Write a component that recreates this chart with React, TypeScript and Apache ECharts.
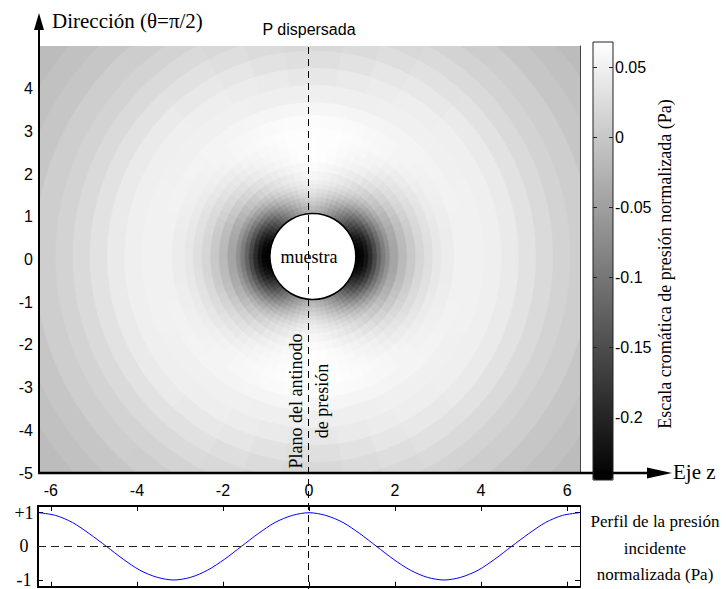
import React, { useEffect, useRef } from 'react';
import * as echarts from 'echarts';

// ---------- data ----------
// Scattered pressure (Pa) around the sample: one row per polar angle (deg from +z axis, every 5 deg),
// one value per ring between consecutive radii of RING_EDGES (axis units).
const FIELD_ANGLES = [0, 5, 10, 15, 20, 25, 30, 35, 40, 45, 50, 55, 60, 65, 70, 75, 80, 85, 90];
const RING_EDGES = [1.0, 1.1, 1.2, 1.3, 1.4, 1.5, 1.6, 1.7, 1.8, 2.0, 2.2, 2.4, 2.6, 2.8, 3.0, 3.3, 3.6, 4.0, 4.4, 4.8, 5.2, 5.6, 6.0, 6.5, 7.0, 7.5, 8.3];
const P_AT_0 = [-0.246, -0.240, -0.221, -0.193, -0.158, -0.124, -0.093, -0.068, -0.043, -0.018, 0.001, 0.017, 0.029, 0.039, 0.045, 0.051, 0.051, 0.048, 0.042, 0.033, 0.023, 0.014, 0.008, -0.002, -0.008, -0.014];
const P_AT_5 = [-0.244, -0.238, -0.219, -0.191, -0.156, -0.122, -0.092, -0.067, -0.042, -0.017, 0.002, 0.018, 0.029, 0.039, 0.045, 0.051, 0.051, 0.048, 0.042, 0.033, 0.023, 0.014, 0.008, -0.002, -0.008, -0.014];
const P_AT_10 = [-0.242, -0.235, -0.217, -0.189, -0.154, -0.121, -0.090, -0.066, -0.041, -0.016, 0.002, 0.018, 0.030, 0.040, 0.045, 0.051, 0.051, 0.048, 0.042, 0.033, 0.023, 0.014, 0.008, -0.002, -0.008, -0.014];
const P_AT_15 = [-0.235, -0.229, -0.210, -0.183, -0.149, -0.116, -0.086, -0.062, -0.038, -0.014, 0.004, 0.020, 0.031, 0.040, 0.046, 0.051, 0.051, 0.048, 0.042, 0.033, 0.023, 0.014, 0.008, -0.002, -0.008, -0.014];
const P_AT_20 = [-0.226, -0.220, -0.201, -0.174, -0.141, -0.110, -0.081, -0.057, -0.034, -0.011, 0.007, 0.022, 0.032, 0.042, 0.047, 0.052, 0.051, 0.048, 0.042, 0.033, 0.023, 0.014, 0.008, -0.002, -0.008, -0.014];
const P_AT_25 = [-0.213, -0.206, -0.188, -0.162, -0.130, -0.100, -0.072, -0.050, -0.028, -0.006, 0.011, 0.025, 0.035, 0.043, 0.048, 0.052, 0.051, 0.048, 0.042, 0.033, 0.023, 0.014, 0.008, -0.002, -0.008, -0.014];
const P_AT_30 = [-0.198, -0.190, -0.172, -0.147, -0.117, -0.089, -0.063, -0.042, -0.021, 0.000, 0.016, 0.028, 0.037, 0.045, 0.049, 0.052, 0.050, 0.048, 0.042, 0.033, 0.023, 0.014, 0.008, -0.002, -0.008, -0.014];
const P_AT_35 = [-0.180, -0.172, -0.154, -0.131, -0.102, -0.076, -0.052, -0.032, -0.013, 0.006, 0.021, 0.032, 0.040, 0.047, 0.051, 0.053, 0.050, 0.048, 0.042, 0.033, 0.023, 0.014, 0.008, -0.002, -0.008, -0.014];
const P_AT_40 = [-0.163, -0.154, -0.137, -0.114, -0.088, -0.063, -0.041, -0.023, -0.005, 0.013, 0.026, 0.036, 0.043, 0.050, 0.052, 0.053, 0.050, 0.048, 0.042, 0.033, 0.023, 0.014, 0.008, -0.002, -0.008, -0.014];
const P_AT_45 = [-0.145, -0.136, -0.119, -0.098, -0.073, -0.050, -0.030, -0.013, 0.003, 0.019, 0.031, 0.040, 0.046, 0.052, 0.054, 0.054, 0.050, 0.048, 0.042, 0.033, 0.023, 0.014, 0.008, -0.002, -0.008, -0.014];
const P_AT_50 = [-0.126, -0.116, -0.099, -0.079, -0.056, -0.036, -0.017, -0.003, 0.012, 0.027, 0.037, 0.045, 0.050, 0.054, 0.055, 0.054, 0.049, 0.047, 0.040, 0.031, 0.022, 0.014, 0.007, -0.002, -0.008, -0.014];
const P_AT_55 = [-0.108, -0.098, -0.081, -0.063, -0.041, -0.023, -0.006, 0.007, 0.020, 0.033, 0.043, 0.049, 0.053, 0.057, 0.057, 0.055, 0.049, 0.047, 0.040, 0.031, 0.022, 0.014, 0.007, -0.002, -0.008, -0.014];
const P_AT_60 = [-0.091, -0.080, -0.063, -0.046, -0.027, -0.010, 0.005, 0.016, 0.028, 0.040, 0.048, 0.053, 0.056, 0.059, 0.058, 0.055, 0.049, 0.047, 0.040, 0.031, 0.022, 0.014, 0.007, -0.002, -0.008, -0.014];
const P_AT_65 = [-0.075, -0.064, -0.048, -0.032, -0.014, 0.001, 0.015, 0.025, 0.035, 0.045, 0.052, 0.056, 0.059, 0.061, 0.060, 0.056, 0.049, 0.045, 0.037, 0.028, 0.020, 0.012, 0.005, -0.003, -0.009, -0.014];
const P_AT_70 = [-0.062, -0.051, -0.035, -0.019, -0.003, 0.010, 0.023, 0.032, 0.041, 0.050, 0.056, 0.059, 0.061, 0.063, 0.061, 0.056, 0.048, 0.045, 0.037, 0.028, 0.020, 0.012, 0.005, -0.003, -0.009, -0.014];
const P_AT_75 = [-0.051, -0.040, -0.023, -0.009, 0.007, 0.018, 0.030, 0.038, 0.046, 0.054, 0.060, 0.062, 0.063, 0.064, 0.062, 0.056, 0.048, 0.042, 0.033, 0.024, 0.017, 0.010, 0.003, -0.004, -0.010, -0.014];
const P_AT_80 = [-0.040, -0.028, -0.012, 0.002, 0.016, 0.026, 0.037, 0.044, 0.051, 0.058, 0.063, 0.064, 0.065, 0.065, 0.063, 0.057, 0.048, 0.042, 0.033, 0.024, 0.017, 0.010, 0.003, -0.004, -0.010, -0.014];
const P_AT_85 = [-0.034, -0.022, -0.006, 0.008, 0.021, 0.031, 0.041, 0.047, 0.054, 0.061, 0.065, 0.066, 0.066, 0.066, 0.063, 0.057, 0.048, 0.039, 0.029, 0.020, 0.014, 0.008, 0.001, -0.005, -0.011, -0.014];
const P_AT_90 = [-0.027, -0.015, 0.001, 0.014, 0.027, 0.036, 0.045, 0.051, 0.057, 0.063, 0.067, 0.067, 0.067, 0.067, 0.064, 0.057, 0.048, 0.039, 0.029, 0.020, 0.014, 0.008, 0.001, -0.005, -0.011, -0.014];
const FIELD_ROWS = [P_AT_0, P_AT_5, P_AT_10, P_AT_15, P_AT_20, P_AT_25, P_AT_30, P_AT_35, P_AT_40, P_AT_45, P_AT_50, P_AT_55, P_AT_60, P_AT_65, P_AT_70, P_AT_75, P_AT_80, P_AT_85, P_AT_90];
const ANGLE_STEP = 5;

// sample (circle) centre and radius, axis units
const SAMPLE_CENTER = [0.09, 0.07];
const SAMPLE_RADIUS = 1.0;

// colour scale (Pa)
const CB_MIN = -0.245;
const CB_MAX = 0.068;
const COLORBAR_TICKS = [0.05, 0, -0.05, -0.1, -0.15, -0.2];

// incident pressure profile
const PROFILE_Z = [-6.28, -5.89, -5.5, -5.11, -4.71, -4.32, -3.93, -3.53, -3.14, -2.75, -2.36, -1.96, -1.57, -1.18, -0.79, -0.39, 0, 0.39, 0.79, 1.18, 1.57, 1.96, 2.36, 2.75, 3.14, 3.53, 3.93, 4.32, 4.71, 5.11, 5.5, 5.89, 6.28];
const PROFILE_P = [1, 0.92, 0.71, 0.38, 0, -0.38, -0.71, -0.92, -1, -0.92, -0.71, -0.38, 0, 0.38, 0.71, 0.92, 1, 0.92, 0.71, 0.38, 0, -0.38, -0.71, -0.92, -1, -0.92, -0.71, -0.38, 0, 0.38, 0.71, 0.92, 1];
const PROFILE_TICKS = [-1, 0, 1];

const Z_TICKS = [-6, -4, -2, 0, 2, 4, 6];
const Z_MIN = -6.3;
const Z_MAX = 6.3;
const Y_MIN = -5;
const Y_MAX = 5;

const SERIF = '"Liberation Serif", "DejaVu Serif", serif';
const SANS = '"Liberation Sans", Arial, sans-serif';

function buildFieldData() {
  const out: number[][] = [];
  FIELD_ROWS.forEach((row, i) => {
    const th = FIELD_ANGLES[i];
    const mirrors = th === 0 ? [0, 180] : th === 90 ? [90, 270] : [th, -th, 180 - th, 180 + th];
    row.forEach((v, j) => {
      mirrors.forEach((a) => out.push([a, RING_EDGES[j], RING_EDGES[j + 1], v]));
    });
  });
  return out;
}

export default function App() {
  const ref = useRef<HTMLDivElement>(null);

  useEffect(() => {
    if (!ref.current) return;
    const chart = echarts.init(ref.current, null, { renderer: 'svg' });
    const fieldData = buildFieldData();
    const half = ANGLE_STEP / 2 + 0.3;

    const option: any = {
      animation: false,
      backgroundColor: '#ffffff',
      grid: [
        { left: 38, top: 46, width: 542, height: 427 },
        { left: 38, top: 506, width: 542, height: 82 },
        { left: 593, top: 42, width: 20, height: 438 },
      ],
      visualMap: {
        type: 'continuous',
        min: CB_MIN,
        max: CB_MAX,
        dimension: 3,
        seriesIndex: [0],
        inRange: { color: ['#000000', '#ffffff'] },
        show: true,
        calculable: false,
        hoverLink: false,
        left: 593,
        top: 42,
        itemWidth: 20,
        itemHeight: 438,
        padding: 0,
        text: null,
      },
      xAxis: [
        {
          type: 'value', gridIndex: 0, min: Z_MIN, max: Z_MAX,
          axisLine: { show: false }, axisTick: { show: false }, splitLine: { show: false },
          axisLabel: { customValues: Z_TICKS, margin: 9, fontSize: 16, fontFamily: SANS, color: '#000', formatter: (v: number) => String(v) },
        },
        {
          type: 'value', gridIndex: 1, min: Z_MIN, max: Z_MAX, position: 'bottom',
          axisLine: { show: true, onZero: false, lineStyle: { color: '#000', width: 2 } },
          axisTick: { show: true, inside: true, length: 5, customValues: Z_TICKS, lineStyle: { color: '#000' } },
          axisLabel: { show: false }, splitLine: { show: false },
        },
        {
          type: 'value', gridIndex: 1, min: Z_MIN, max: Z_MAX, position: 'top',
          axisLine: { show: true, onZero: false, lineStyle: { color: '#000', width: 2 } },
          axisTick: { show: true, inside: true, length: 5, customValues: Z_TICKS, lineStyle: { color: '#000' } },
          axisLabel: { show: false }, splitLine: { show: false },
        },
        { type: 'value', gridIndex: 2, min: 0, max: 1, show: false },
      ],
      yAxis: [
        {
          type: 'value', gridIndex: 0, min: Y_MIN, max: Y_MAX, interval: 1,
          axisLine: { show: false }, splitLine: { show: false },
          axisTick: { show: true, inside: true, length: 4, lineStyle: { color: '#000' } },
          axisLabel: { margin: 5, fontSize: 16, fontFamily: SANS, color: '#000', formatter: (v: number) => (v === Y_MAX ? '' : String(v)) },
        },
        {
          type: 'value', gridIndex: 0, min: Y_MIN, max: Y_MAX, interval: 1, position: 'right',
          axisLine: { show: true, onZero: false, lineStyle: { color: '#444', width: 1 } },
          axisTick: { show: true, inside: true, length: 4, lineStyle: { color: '#000' } },
          axisLabel: { show: false }, splitLine: { show: false },
        },
        {
          type: 'value', gridIndex: 1, min: -1.2, max: 1.2, position: 'left',
          axisLine: { show: true, onZero: false, lineStyle: { color: '#000', width: 2 } },
          axisTick: { show: true, inside: true, length: 5, customValues: PROFILE_TICKS, lineStyle: { color: '#000' } },
          axisLabel: {
            customValues: PROFILE_TICKS, align: 'center', margin: 14, fontSize: 18, fontFamily: SERIF, color: '#000',
            formatter: (v: number) => (v > 0 ? '+' + v : String(v)),
          },
          splitLine: { show: false },
        },
        {
          type: 'value', gridIndex: 1, min: -1.2, max: 1.2, position: 'right',
          axisLine: { show: true, onZero: false, lineStyle: { color: '#000', width: 1 } },
          axisTick: { show: true, inside: true, length: 5, customValues: PROFILE_TICKS, lineStyle: { color: '#000' } },
          axisLabel: { show: false }, splitLine: { show: false },
        },
        {
          type: 'value', gridIndex: 2, min: CB_MIN, max: CB_MAX, position: 'left', z: 10,
          axisLine: { show: false },
          axisTick: { show: true, inside: true, length: 4, customValues: COLORBAR_TICKS, lineStyle: { color: '#222' } },
          axisLabel: { show: false }, splitLine: { show: false },
        },
        {
          type: 'value', gridIndex: 2, min: CB_MIN, max: CB_MAX, position: 'right', z: 10,
          axisLine: { show: false },
          axisTick: { show: true, inside: true, length: 4, customValues: COLORBAR_TICKS, lineStyle: { color: '#222' } },
          axisLabel: { customValues: COLORBAR_TICKS, margin: 2, fontSize: 16, fontFamily: SANS, color: '#000', formatter: (v: number) => String(v) },
          splitLine: { show: false },
        },
      ],
      series: [
        {
          type: 'custom',
          xAxisIndex: 0,
          yAxisIndex: 0,
          clip: true,
          silent: true,
          data: fieldData,
          renderItem: (params: any, api: any) => {
            const ang = api.value(0);
            const r0 = api.value(1);
            const r1 = api.value(2);
            const c = api.coord(SAMPLE_CENTER);
            const ppu = api.size([1, 0])[0];
            const color = api.visual('color');
            return {
              type: 'sector',
              shape: {
                cx: c[0], cy: c[1],
                r0: Math.max(0, r0 * ppu - 0.4), r: r1 * ppu + 0.4,
                startAngle: (-(ang + half) * Math.PI) / 180,
                endAngle: (-(ang - half) * Math.PI) / 180,
                clockwise: true,
              },
              style: { fill: color, stroke: color, lineWidth: 0.6 },
            };
          },
        },
        {
          type: 'custom',
          xAxisIndex: 0,
          yAxisIndex: 0,
          silent: true,
          z: 5,
          data: [[SAMPLE_CENTER[0], SAMPLE_CENTER[1], SAMPLE_RADIUS]],
          renderItem: (params: any, api: any) => {
            const c = api.coord([api.value(0), api.value(1)]);
            const ppu = api.size([1, 0])[0];
            return {
              type: 'circle',
              shape: { cx: c[0], cy: c[1], r: api.value(2) * ppu },
              style: { fill: '#ffffff', stroke: '#000000', lineWidth: 1.6 },
            };
          },
        },
        {
          type: 'line',
          xAxisIndex: 1,
          yAxisIndex: 2,
          data: PROFILE_Z.map((z, i) => [z, PROFILE_P[i]]),
          showSymbol: false,
          smooth: 0.3,
          lineStyle: { color: '#0000ff', width: 1 },
          silent: true,
          markLine: {
            silent: true,
            symbol: 'none',
            label: { show: false },
            lineStyle: { type: [8, 5], color: '#222', width: 1 },
            data: [{ yAxis: 0 }],
          },
        },
      ],
    };

    chart.setOption(option);

    const px0raw = chart.convertToPixel({ xAxisIndex: 0 }, 0) as number;
    const px0 = Math.floor(px0raw) - 0.5;
    const pyTop = chart.convertToPixel({ yAxisIndex: 0 }, Y_MAX) as number;
    const sampleTxt = chart.convertToPixel({ gridIndex: 0 }, [0, SAMPLE_CENTER[1]]) as number[];

    const txt = (text: string, x: number, y: number, font: string, align = 'left', extra: any = {}) => ({
      type: 'text',
      z: 70,
      silent: true,
      ...extra,
      x, y,
      style: {
        text, x: 0, y: 0, font, fill: '#000',
        align, textAlign: align, verticalAlign: 'middle', textVerticalAlign: 'middle',
        ...(extra.lineHeight ? { lineHeight: extra.lineHeight } : {}),
      },
    });

    chart.setOption({
      graphic: [
        // vertical dashed line (antinode plane)
        { type: 'line', z: 60, silent: true, shape: { x1: px0, y1: pyTop + 1, x2: px0, y2: 589 }, style: { stroke: '#000', lineWidth: 1, lineDash: [7, 5] } },
        // y arrow
        { type: 'line', z: 60, silent: true, shape: { x1: 39, y1: 474, x2: 39, y2: 25 }, style: { stroke: '#000', lineWidth: 2 } },
        { type: 'polygon', z: 60, silent: true, shape: { points: [[39, 13], [34, 30], [44, 30]] }, style: { fill: '#000' } },
        // z arrow
        { type: 'line', z: 60, silent: true, shape: { x1: 38, y1: 473, x2: 650, y2: 473 }, style: { stroke: '#000', lineWidth: 2.5 } },
        { type: 'polygon', z: 60, silent: true, shape: { points: [[672, 473], [647, 467.5], [647, 478.5]] }, style: { fill: '#000' } },
        // colorbar frame
        { type: 'rect', z: 60, silent: true, shape: { x: 593, y: 42, width: 20, height: 438 }, style: { fill: 'none', stroke: '#222', lineWidth: 1 } },
        txt('Dirección (θ=π/2)', 52, 21, `21px ${SERIF}`),
        txt('P dispersada', px0raw, 29, `16px ${SANS}`, 'center'),
        txt('Eje z', 673, 472, `21px ${SERIF}`),
        txt('muestra', sampleTxt[0], sampleTxt[1], `18px ${SERIF}`, 'center'),
        txt('Plano del antinodo', px0raw - 13, 401, `18px ${SERIF}`, 'center', { rotation: Math.PI / 2 }),
        txt('de presión', px0raw + 13, 401, `18px ${SERIF}`, 'center', { rotation: Math.PI / 2 }),
        txt('Escala cromática de presión normalizada (Pa)', 665, 264, `18px ${SERIF}`, 'center', { rotation: Math.PI / 2 }),
        txt('Perfil de la presión\nincidente\nnormalizada (Pa)', 655, 548, `17px ${SERIF}`, 'center', { lineHeight: 26.5 }),
      ],
    });

    return () => chart.dispose();
  }, []);

  return <div ref={ref} style={{ width: 726, height: 589, position: 'absolute', left: 0, top: 0 }} />;
}
